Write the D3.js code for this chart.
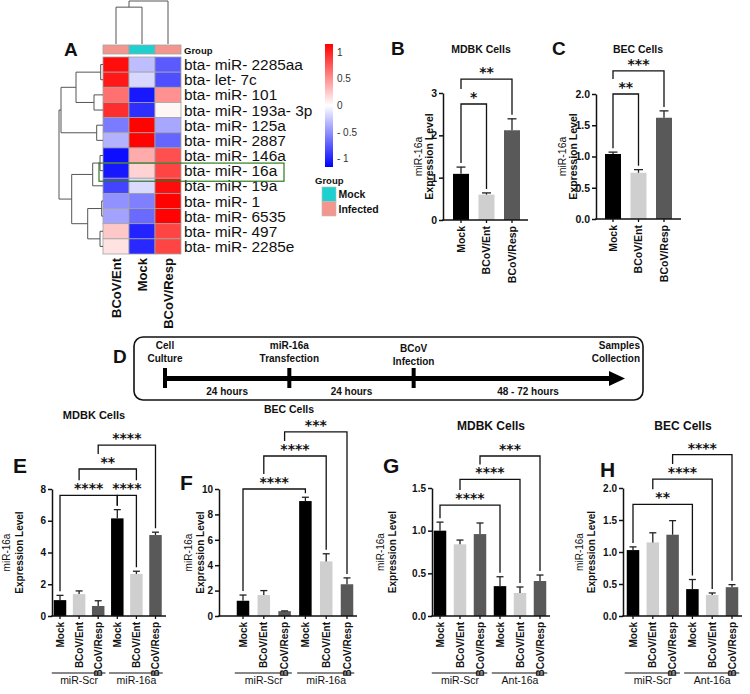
<!DOCTYPE html>
<html>
<head>
<meta charset="utf-8">
<script src="https://cdn.jsdelivr.net/npm/d3@7"></script>
<style>
  body { margin: 0; background: #fff; }
  svg text { font-family: "Liberation Sans", Arial, sans-serif; fill: #111; }
  svg text.star { font-family: "DejaVu Sans", sans-serif; font-weight: bold; }
</style>
</head>
<body>
<script>
"use strict";

/* Panel A: heatmap data */
var hm_rows = ["bta- miR- 2285aa", "bta- let- 7c", "bta- miR- 101", "bta- miR- 193a- 3p",
	"bta- miR- 125a", "bta- miR- 2887", "bta- miR- 146a", "bta- miR- 16a", "bta- miR- 19a",
	"bta- miR- 1", "bta- miR- 6535", "bta- miR- 497", "bta- miR- 2285e"];
var hm_cols = ["BCoV/Ent", "Mock", "BCoV/Resp"];
var hm_groups = ["Infected", "Mock", "Infected"];
var hm_values = [		// z-scores, columns in hm_cols order
	[1.1, -0.3, -0.75],
	[1.05, -0.18, -0.8],
	[0.65, -1.05, 0.5],
	[0.95, -0.95, 0.04],
	[-0.6, 1.15, -0.4],
	[-0.35, 1.15, -0.7],
	[-1.1, 0.38, 0.8],
	[-1.05, 0.2, 0.85],
	[-0.85, -0.17, 1.1],
	[-0.5, -0.58, 1.15],
	[-0.42, -0.68, 1.15],
	[0.25, -1.0, 0.85],
	[0.13, -0.98, 0.85]
];
// hclust style merges: negative = leaf, positive = earlier merge
var row_merges = [[-1, -2, 2.3], [-3, -4, 9], [1, 2, 27], [-5, -6, 6.3], [3, 4, 42],
	[-7, -8, 3], [6, -9, 10.3], [-10, -11, 1.3], [-12, -13, 3], [8, 9, 15.3],
	[7, 10, 31.3], [5, 11, 44]];
var col_merges = [[-1, -2, 36], [1, -3, 42]];
var colorbar_ticks = [1, 0.5, 0, -0.5, -1];
var group_names = ["Mock", "Infected"];
var group_colors = ["#1fd0d0", "#f3968d"];

/* Panels B, C: infection only */
var infect_cats = ["Mock", "BCoV/Ent", "BCoV/Resp"];
var b_means = [1.09, 0.60, 2.12];
var b_sd = [0.16, 0.04, 0.27];
var b_brackets = [{a: 0, b: 1, level: 2.74, label: "*"}, {a: 0, b: 2, level: 3.33, label: "**"}];
var c_means = [1.04, 0.74, 1.62];
var c_sd = [0.03, 0.05, 0.11];
var c_brackets = [{a: 0, b: 1, level: 2.0, label: "**"}, {a: 0, b: 2, level: 2.37, label: "***"}];

/* Panel D: timeline */
var tl_stages = [["Cell", "Culture"], ["miR-16a", "Transfection"], ["BCoV", "Infection"], ["Samples", "Collection"]];
var tl_spans = ["24 hours", "24 hours", "48 - 72 hours"];

/* Panels E-H: transfection + infection */
var tf_cats = ["Mock", "BCoV/Ent", "BCoV/Resp", "Mock", "BCoV/Ent", "BCoV/Resp"];
var e_means = [1.0, 1.38, 0.63, 6.15, 2.65, 5.1];
var e_sd = [0.3, 0.2, 0.33, 0.55, 0.17, 0.18];
var e_brackets = [{a: 0, b: 3, level: 7.6, label: "****"}, {a: 3, b: 4, level: 7.6, label: "****"},
	{a: 1, b: 4, level: 9.26, label: "**"}, {a: 2, b: 5, level: 10.77, label: "****"}];
var f_means = [1.2, 1.65, 0.38, 9.05, 4.3, 2.5];
var f_sd = [0.45, 0.35, 0.02, 0.3, 0.6, 0.5];
var f_brackets = [{a: 0, b: 3, level: 10.0, label: "****"}, {a: 1, b: 4, level: 12.6, label: "****"},
	{a: 2, b: 5, level: 14.5, label: "***"}];
var g_means = [1.0, 0.84, 0.96, 0.35, 0.27, 0.41];
var g_sd = [0.1, 0.05, 0.13, 0.11, 0.07, 0.07];
var g_brackets = [{a: 0, b: 3, level: 1.30, label: "****"}, {a: 1, b: 4, level: 1.60, label: "****"},
	{a: 2, b: 5, level: 1.875, label: "***"}];
var h_means = [1.03, 1.15, 1.27, 0.42, 0.33, 0.45];
var h_sd = [0.05, 0.15, 0.22, 0.15, 0.03, 0.04];
var h_brackets = [{a: 0, b: 3, level: 1.745, label: "**"}, {a: 1, b: 4, level: 2.14, label: "****"},
	{a: 2, b: 5, level: 2.52, label: "****"}];
var groups_16a = ["miR-Scr", "miR-16a"];
var groups_ant = ["miR-Scr", "Ant-16a"];

var bar_fills = ["#000000", "#cfcfcf", "#595959"];

var svg = d3.select("body").append("svg")
	.attr("width", 750)
	.attr("height", 694);

function letter(txt, x, y, size) {
	svg.append("text").attr("x", x).attr("y", y)
		.style("font-size", size + "px").style("font-weight", "bold")
		.text(txt);
}

// build merge nodes with leaf positions
function dendroNodes(merges, leafPos) {
	var nodes = [];
	function get(k) { return k < 0 ? {p: leafPos(-k - 1), h: 0} : nodes[k - 1]; }
	merges.forEach(function(m) {
		var a = get(m[0]), b = get(m[1]);
		nodes.push({a: a, b: b, p: (a.p + b.p) / 2, h: m[2]});
	});
	return nodes;
}

function drawDendro(g, merges, leafPos, hScale, vertical) {
	var pt = function(h, p) { return vertical ? [p, hScale(h)] : [hScale(h), p]; };
	var path = d3.path();
	dendroNodes(merges, leafPos).forEach(function(n) {
		var s = pt(n.a.h, n.a.p), p1 = pt(n.h, n.a.p), p2 = pt(n.h, n.b.p), e = pt(n.b.h, n.b.p);
		path.moveTo(s[0], s[1]);
		path.lineTo(p1[0], p1[1]);
		path.lineTo(p2[0], p2[1]);
		path.lineTo(e[0], e[1]);
	});
	g.append("path").attr("d", path.toString())
		.attr("fill", "none").attr("stroke", "#555").attr("stroke-width", 1);
}

function drawHeatmap() {
	var g = svg.append("g");
	var xCol = d3.scaleBand().domain(d3.range(hm_cols.length)).range([103, 181]);
	var yRow = d3.scaleBand().domain(d3.range(hm_rows.length)).range([57, 254]);
	var color = d3.scaleLinear().domain([-1.16, 0, 1.16])
		.range(["#0000ff", "#ffffff", "#ff0000"]).clamp(true);
	var grpColor = d3.scaleOrdinal().domain(group_names).range(group_colors);

	var cells = [];
	hm_values.forEach(function(row, i) {
		row.forEach(function(v, j) { cells.push({r: i, c: j, v: v}); });
	});
	g.selectAll(".cell").data(cells).enter().append("rect")
		.attr("x", function(d) { return xCol(d.c); })
		.attr("y", function(d) { return yRow(d.r); })
		.attr("width", xCol.bandwidth())
		.attr("height", yRow.bandwidth())
		.attr("fill", function(d) { return color(d.v); })
		.attr("stroke", "#a3a3a3").attr("stroke-width", 0.8);

	// group annotation bar
	g.selectAll(".grp").data(hm_groups).enter().append("rect")
		.attr("x", function(d, i) { return xCol(i); })
		.attr("y", 45).attr("width", xCol.bandwidth()).attr("height", 9)
		.attr("fill", function(d) { return grpColor(d); })
		.attr("stroke", "#a3a3a3").attr("stroke-width", 0.8);
	g.append("text").attr("x", 184).attr("y", 53.5)
		.style("font-size", "9.5px").style("font-weight", "bold").text("Group");

	// row labels
	g.selectAll(".rl").data(hm_rows).enter().append("text")
		.attr("x", 184)
		.attr("y", function(d, i) { return yRow(i) + yRow.bandwidth() / 2; })
		.attr("dy", "0.36em")
		.style("font-size", "15.4px")
		.text(function(d) { return d; });

	// column labels
	g.selectAll(".cl").data(hm_cols).enter().append("text")
		.attr("transform", function(d, i) {
			return "translate(" + (xCol(i) + xCol.bandwidth() / 2) + ",258) rotate(-90)"; })
		.attr("dy", "0.36em").attr("text-anchor", "end")
		.style("font-size", "13px").style("font-weight", "bold")
		.text(function(d) { return d; });

	// highlight box around miR-16a
	var hi = hm_rows.indexOf("bta- miR- 16a");
	g.append("rect").attr("x", 99).attr("y", yRow(hi))
		.attr("width", 185).attr("height", yRow.bandwidth() + 3)
		.attr("fill", "none").attr("stroke", "#2f7a1f").attr("stroke-width", 1.2);

	// dendrograms
	drawDendro(g, row_merges, function(i) { return yRow(i) + yRow.bandwidth() / 2; },
		d3.scaleLinear().domain([0, 44]).range([103, 59]), false);
	drawDendro(g, col_merges, function(i) { return xCol(i) + xCol.bandwidth() / 2; },
		d3.scaleLinear().domain([0, 42]).range([44, 1]), true);

	// colour bar
	var yCb = d3.scaleLinear().domain([-1.16, 1.16]).range([167, 44]);
	var grad = svg.append("defs").append("linearGradient").attr("id", "cbar")
		.attr("x1", 0).attr("y1", 1).attr("x2", 0).attr("y2", 0);
	d3.range(-1.16, 1.17, 0.29).forEach(function(v) {
		grad.append("stop").attr("offset", (v + 1.16) / 2.32).attr("stop-color", color(v));
	});
	g.append("rect").attr("x", 325).attr("y", yCb(1.16))
		.attr("width", 8).attr("height", yCb(-1.16) - yCb(1.16))
		.attr("fill", "url(#cbar)");
	g.selectAll(".cbt").data(colorbar_ticks).enter().append("text")
		.attr("x", 337).attr("y", function(d) { return yCb(d); })
		.attr("dy", "0.35em")
		.style("font-size", "10px").style("fill", "#333")
		.text(function(d) { return d < 0 ? "- " + Math.abs(d) : d; });

	// group legend
	g.append("text").attr("x", 315).attr("y", 184)
		.style("font-size", "9.5px").style("font-weight", "bold").text("Group");
	var leg = g.selectAll(".leg").data(group_names).enter().append("g")
		.attr("transform", function(d, i) { return "translate(322," + (187 + i * 14.5) + ")"; });
	leg.append("rect").attr("width", 14).attr("height", 14.5)
		.attr("fill", function(d) { return grpColor(d); })
		.attr("stroke", "#bbb").attr("stroke-width", 0.6);
	leg.append("text").attr("x", 16.5).attr("y", 11)
		.style("font-size", "10.5px").style("font-weight", "bold")
		.text(function(d) { return d; });
}

function drawTimeline() {
	var x = d3.scaleLinear().domain([0, 3.7]).range([165, 625]);
	var g = svg.append("g");
	var lineY = 378.5;
	g.append("rect").attr("x", x(0) - 31).attr("y", 337)
		.attr("width", x(3.7) + 18 - (x(0) - 31)).attr("height", 63)
		.attr("rx", 9).attr("fill", "none").attr("stroke", "#111").attr("stroke-width", 1.6);
	g.append("line").attr("x1", x(0)).attr("x2", x(3.7) - 14)
		.attr("y1", lineY).attr("y2", lineY)
		.attr("stroke", "#000").attr("stroke-width", 5);
	g.append("path")
		.attr("d", "M" + (x(3.7) - 16) + "," + (lineY - 7.5) + "L" + x(3.7) + "," + lineY +
			"L" + (x(3.7) - 16) + "," + (lineY + 7.5) + "Z")
		.attr("fill", "#000");
	g.selectAll(".tk").data([0, 1, 2]).enter().append("rect")
		.attr("x", function(d) { return x(d) - 2; }).attr("y", 368)
		.attr("width", 4).attr("height", 20).attr("fill", "#000");
	tl_stages.forEach(function(lines, i) {
		var last = i === tl_stages.length - 1;
		var base = i === 2 ? 352 : 349;
		lines.forEach(function(t, k) {
			g.append("text")
				.attr("x", last ? 640 : x(i)).attr("y", base + k * 12.5)
				.attr("text-anchor", last ? "end" : "middle")
				.style("font-size", "10px").style("font-weight", "bold")
				.text(t);
		});
	});
	var spanMid = [0.5, 1.5, 2.92];
	tl_spans.forEach(function(t, i) {
		g.append("text").attr("x", x(spanMid[i])).attr("y", 395)
			.attr("text-anchor", "middle")
			.style("font-size", "10px").style("font-weight", "bold")
			.text(t);
	});
}

// GraphPad style bar chart with SD whisker and significance brackets
function barPanel(p) {
	var g = svg.append("g");
	var n = p.means.length;
	var pad = 1 - p.barWidth / p.step;
	var x = d3.scaleBand().domain(d3.range(n))
		.range([p.c0 - p.step / 2, p.c0 - p.step / 2 + n * p.step])
		.paddingInner(pad).paddingOuter(pad / 2);
	var y = d3.scaleLinear().domain([0, p.yMax]).range([p.y0, p.yTop]);
	var cx = function(i) { return x(i) + x.bandwidth() / 2; };
	var fs = p.fontSize + "px";

	// bars
	g.selectAll(".bar").data(p.means).enter().append("rect")
		.attr("x", function(d, i) { return x(i); })
		.attr("y", function(d) { return y(d); })
		.attr("width", x.bandwidth())
		.attr("height", function(d) { return p.y0 - y(d); })
		.attr("fill", function(d, i) { return bar_fills[i % 3]; });
	// error whiskers
	var err = g.selectAll(".err").data(p.means).enter().append("g");
	err.append("line")
		.attr("x1", function(d, i) { return cx(i); }).attr("x2", function(d, i) { return cx(i); })
		.attr("y1", function(d) { return y(d); })
		.attr("y2", function(d, i) { return y(d + p.sd[i]); })
		.attr("stroke", "#222").attr("stroke-width", 1.3);
	err.append("line")
		.attr("x1", function(d, i) { return cx(i) - p.barWidth * 0.28; })
		.attr("x2", function(d, i) { return cx(i) + p.barWidth * 0.28; })
		.attr("y1", function(d, i) { return y(d + p.sd[i]); })
		.attr("y2", function(d, i) { return y(d + p.sd[i]); })
		.attr("stroke", "#222").attr("stroke-width", 1.3);

	// y axis
	var ya = g.append("g").attr("transform", "translate(" + p.axisX + ",0)")
		.call(d3.axisLeft(y).tickValues(p.yTicks).tickFormat(d3.format(p.fmt))
			.tickSize(4).tickSizeOuter(0));
	ya.select(".domain").attr("stroke-width", 1.5).attr("stroke", "#111");
	ya.selectAll(".tick line").attr("stroke-width", 1.5).attr("stroke", "#111");
	ya.selectAll(".tick text").attr("x", -6).style("font-size", fs)
		.style("font-weight", "bold").style("font-family", "'Liberation Sans', Arial, sans-serif");

	// x axis
	var xa = g.append("g").attr("transform", "translate(0," + p.y0 + ")")
		.call(d3.axisBottom(x).tickSize(3).tickSizeOuter(0)
			.tickFormat(function(i) { return p.cats[i]; }));
	xa.select(".domain").remove();
	xa.selectAll(".tick line").attr("stroke-width", 1.3).attr("stroke", "#111");
	xa.selectAll(".tick text")
		.attr("transform", "rotate(-90)").attr("text-anchor", "end")
		.attr("x", -6).attr("y", 0).attr("dy", "0.36em")
		.style("font-size", fs).style("font-weight", "bold")
		.style("font-family", "'Liberation Sans', Arial, sans-serif");
	g.append("line").attr("x1", p.axisX - 0.75).attr("x2", p.axisEnd)
		.attr("y1", p.y0).attr("y2", p.y0)
		.attr("stroke", "#111").attr("stroke-width", 1.5);

	// y label, two lines
	var yMid = (p.y0 + p.yTop) / 2;
	[["miR-16a", "normal"], ["Expression Level", "bold"]].forEach(function(t, k) {
		g.append("text")
			.attr("transform", "translate(" + p.ylabX[k] + "," + yMid + ") rotate(-90)")
			.attr("text-anchor", "middle").attr("dy", "0.35em")
			.style("font-size", fs).style("font-weight", t[1])
			.text(t[0]);
	});

	// title and panel letter
	g.append("text").attr("x", p.titleX).attr("y", p.titleY)
		.attr("text-anchor", "middle")
		.style("font-size", p.titleSize + "px").style("font-weight", "bold")
		.text(p.title);
	letter(p.letter, p.letterX, p.letterY, p.letterSize);

	// significance brackets
	p.brackets.forEach(function(br) {
		var by = y(br.level);
		var legEnd = function(k) {
			var lower = p.brackets.filter(function(o) {
				return o.level < br.level && Math.min(o.a, o.b) <= k && k <= Math.max(o.a, o.b);
			});
			if (lower.length) return y(d3.max(lower, function(o) { return o.level; })) - 15;
			return y(p.means[k] + p.sd[k]) - 4;
		};
		g.append("path")
			.attr("d", "M" + cx(br.a) + "," + legEnd(br.a) + "V" + by + "H" + cx(br.b) + "V" + legEnd(br.b))
			.attr("fill", "none").attr("stroke", "#111").attr("stroke-width", 1.3);
		g.append("text").attr("class", "star")
			.attr("x", (cx(br.a) + cx(br.b)) / 2).attr("y", by - 2)
			.attr("text-anchor", "middle")
			.style("font-size", "14px")
			.text(br.label);
	});

	// treatment group underlines
	if (p.groups) {
		p.groups.forEach(function(name, k) {
			var a = k * 3, b = k * 3 + 2;
			g.append("line").attr("x1", x(a) - 2).attr("x2", x(b) + x.bandwidth() + 1)
				.attr("y1", p.groupY).attr("y2", p.groupY)
				.attr("stroke", "#111").attr("stroke-width", 1.2);
			g.append("text").attr("x", (cx(a) + cx(b)) / 2).attr("y", p.groupY + 11)
				.attr("text-anchor", "middle")
				.style("font-size", "10.5px")
				.text(name);
		});
	}
}

drawHeatmap();
letter("A", 64, 56, 19);

barPanel({cats: infect_cats, means: b_means, sd: b_sd, brackets: b_brackets,
	axisX: 443, axisEnd: 528, c0: 461, step: 25.5, barWidth: 16,
	y0: 220, yTop: 93, yMax: 3, yTicks: [0, 1, 2, 3], fmt: "d", fontSize: 10.5,
	ylabX: [418, 429], title: "MDBK Cells", titleX: 481, titleY: 53, titleSize: 10.5,
	letter: "B", letterX: 391, letterY: 55, letterSize: 19});
barPanel({cats: infect_cats, means: c_means, sd: c_sd, brackets: c_brackets,
	axisX: 596, axisEnd: 681, c0: 613, step: 25.5, barWidth: 16,
	y0: 219, yTop: 94, yMax: 2, yTicks: [0, 0.5, 1, 1.5, 2], fmt: ".1f", fontSize: 10.5,
	ylabX: [562, 573], title: "BEC Cells", titleX: 638, titleY: 53, titleSize: 10.5,
	letter: "C", letterX: 552, letterY: 55, letterSize: 19});

drawTimeline();
letter("D", 113, 363, 19);

barPanel({cats: tf_cats, means: e_means, sd: e_sd, brackets: e_brackets, groups: groups_16a,
	axisX: 52, axisEnd: 166, c0: 60, step: 19.1, barWidth: 12.5, groupY: 673,
	y0: 616, yTop: 489, yMax: 8, yTicks: [0, 2, 4, 6, 8], fmt: "d", fontSize: 10,
	ylabX: [6, 19], title: "MDBK Cells", titleX: 94, titleY: 419, titleSize: 11,
	letter: "E", letterX: 13, letterY: 473, letterSize: 21});
barPanel({cats: tf_cats, means: f_means, sd: f_sd, brackets: f_brackets, groups: groups_16a,
	axisX: 219, axisEnd: 357, c0: 243, step: 20.8, barWidth: 12.5, groupY: 673,
	y0: 616, yTop: 489, yMax: 10, yTicks: [0, 2, 4, 6, 8, 10], fmt: "d", fontSize: 10,
	ylabX: [188, 200], title: "BEC Cells", titleX: 289, titleY: 413, titleSize: 10.5,
	letter: "F", letterX: 180, letterY: 490, letterSize: 21});
barPanel({cats: tf_cats, means: g_means, sd: g_sd, brackets: g_brackets, groups: groups_ant,
	axisX: 432, axisEnd: 550, c0: 440, step: 20, barWidth: 12.5, groupY: 673,
	y0: 616, yTop: 488, yMax: 1.5, yTicks: [0, 0.5, 1, 1.5], fmt: ".1f", fontSize: 10,
	ylabX: [380, 392], title: "MDBK Cells", titleX: 491, titleY: 430, titleSize: 12,
	letter: "G", letterX: 383, letterY: 473, letterSize: 21});
barPanel({cats: tf_cats, means: h_means, sd: h_sd, brackets: h_brackets, groups: groups_ant,
	axisX: 623, axisEnd: 742, c0: 633, step: 19.8, barWidth: 12.5, groupY: 673,
	y0: 616, yTop: 488, yMax: 2, yTicks: [0, 0.5, 1, 1.5, 2], fmt: ".1f", fontSize: 10,
	ylabX: [579, 591], title: "BEC Cells", titleX: 683, titleY: 430, titleSize: 12,
	letter: "H", letterX: 600, letterY: 477, letterSize: 21});
</script>
</body>
</html>
